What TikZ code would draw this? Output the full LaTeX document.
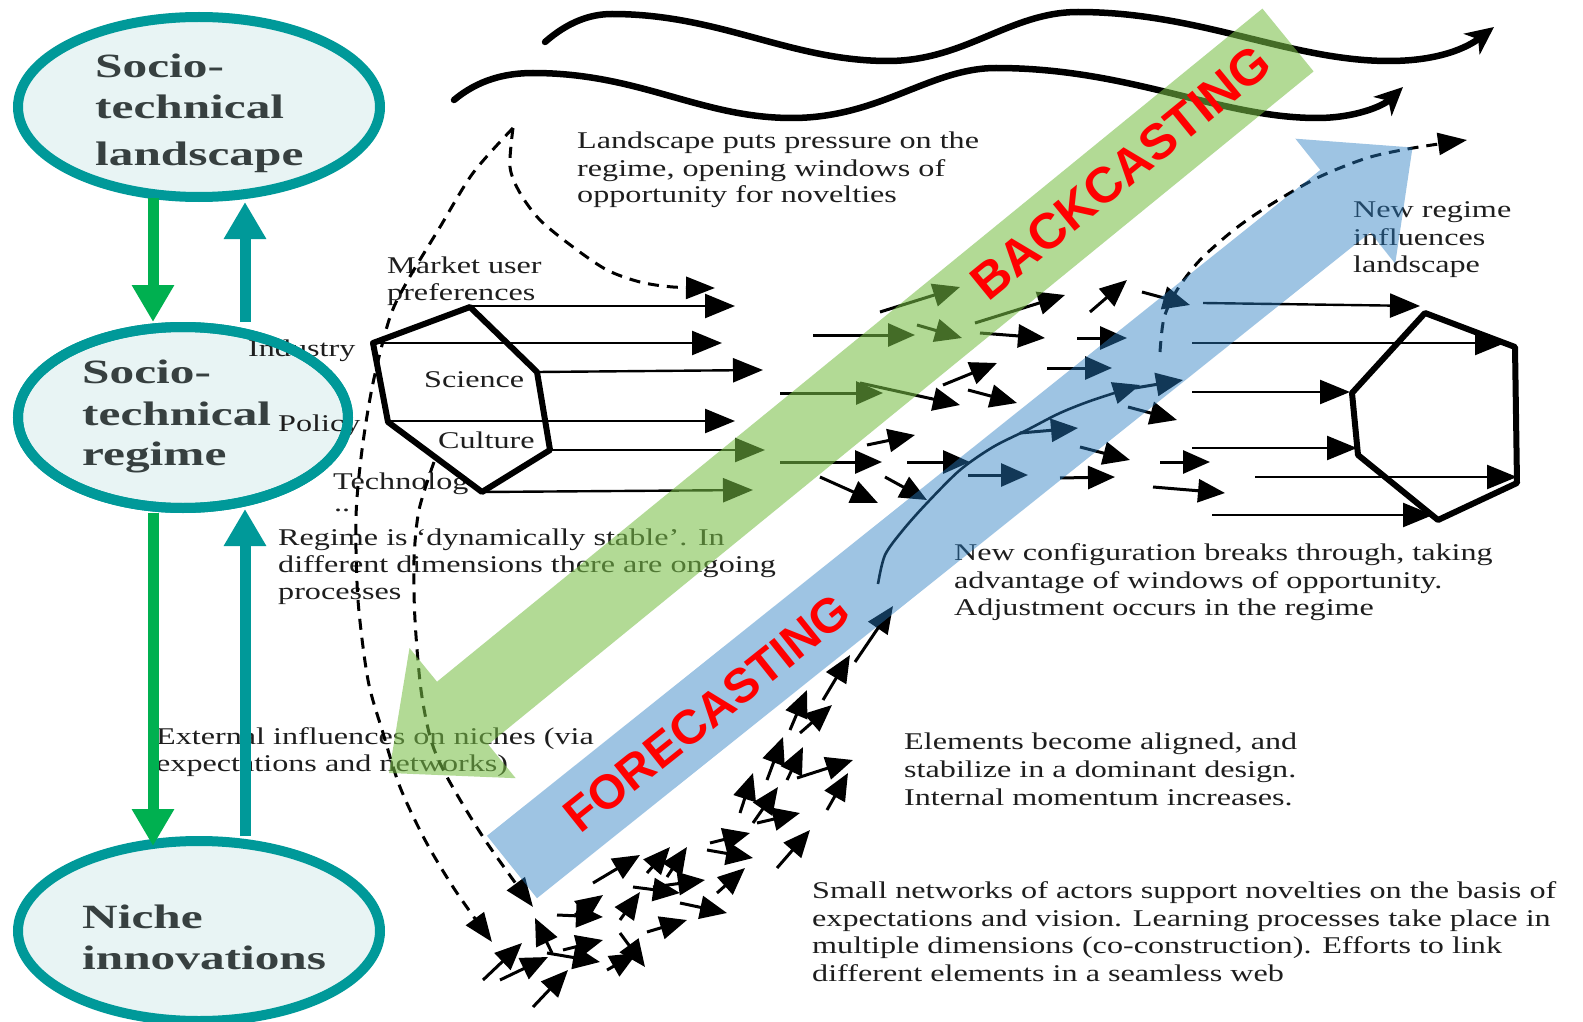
\documentclass[tikz,border=0pt]{standalone}
\usepackage{fontspec}
\setmainfont{Liberation Serif}
\newfontfamily\geelsfont[FakeStretch=1.34]{Liberation Serif}
\newfontfamily\levelfont[FakeStretch=1.45]{Liberation Serif}
\newfontfamily\castfont{Liberation Sans}
\usetikzlibrary{arrows.meta,shapes.geometric}

\definecolor{levelteal}{RGB}{0,153,153}
\definecolor{levelfill}{RGB}{232,244,244}
\definecolor{levelink}{RGB}{55,64,64}
\definecolor{downgreen}{RGB}{0,176,80}
\definecolor{backband}{RGB}{120,190,70}
\definecolor{foreband}{RGB}{40,125,195}
\definecolor{bodyink}{RGB}{30,30,30}
\definecolor{castred}{RGB}{255,0,0}

\tikzset{
  level/.style={ellipse, draw=levelteal, fill=levelfill, line width=10pt, inner sep=0pt},
  leveltxt/.style={anchor=base west, inner sep=0pt, text=levelink,
    font=\levelfont\bfseries\fontsize{34}{40}\selectfont},
  geelstxt/.style={anchor=base west, inner sep=0pt, text=bodyink,
    font=\geelsfont\fontsize{24}{27}\selectfont},
  levelarrow/.style={line width=11pt, -{Triangle[length=37pt,width=40pt]}},
  hexedge/.style={line width=6pt, line join=round},
  rowarrow/.style={line width=2.4pt, -{Triangle[length=30pt,width=24pt]}},
  swarm/.style={line width=3pt, -{Triangle[length=27pt,width=23pt]}},
  influence/.style={line width=3pt, dash pattern=on 11pt off 8pt, -{Triangle[length=29pt,width=22pt]}},
  breakthrough/.style={line width=2.6pt, -{Triangle[length=27pt,width=22pt]}},
  wave/.style={line width=6.5pt, line cap=round, -{Stealth[length=28pt,width=26pt,inset=8pt]}},
  castlabel/.style={text=castred, inner sep=0pt},
}

\begin{document}
\begin{tikzpicture}[x=1pt,y=-1pt]
\useasboundingbox (0,0) rectangle (1583,1022);
\fill[white] (0,0) rectangle (1583,1022);

% landscape waves
\draw[wave] (545,42) .. controls (568,22) and (590,14) .. (612,14)
  .. controls (720,14) and (790,61) .. (888,61)
  .. controls (965,61) and (1010,12) .. (1078,12)
  .. controls (1200,12) and (1290,61) .. (1389,61)
  .. controls (1440,61) and (1468,47) .. (1494,27);
\draw[wave] (454,100) .. controls (478,80) and (505,73) .. (533,73)
  .. controls (640,73) and (700,118) .. (792,118)
  .. controls (880,118) and (930,68) .. (996,68)
  .. controls (1130,68) and (1220,118) .. (1317,118)
  .. controls (1355,118) and (1383,106) .. (1403,87);

% the three levels
\node[level, minimum width=362pt, minimum height=180pt] (landscape) at (199,107) {};
\node[level, minimum width=330pt, minimum height=181pt] (regime) at (183,417.5) {};
\node[level, minimum width=362pt, minimum height=180pt] (niche) at (199,931) {};

\node[leveltxt] (landscape-a) at (95,78) {Socio-};
\node[leveltxt] (landscape-b) at (95,119) {technical};
\node[leveltxt] (landscape-c) at (95,166) {landscape};
\node[leveltxt] (regime-a) at (82,383) {Socio-};
\node[leveltxt] (regime-b) at (82,425) {technical};
\node[leveltxt] (regime-c) at (82,465) {regime};
\node[leveltxt] (niche-a) at (82,928) {Niche};
\node[leveltxt] (niche-b) at (82,969) {innovations};

% captions of the multi-level picture
\node[geelstxt] (press-a) at (577,149) {Landscape puts pressure on the};
\node[geelstxt] (press-b) at (577,176) {regime, opening windows of};
\node[geelstxt] (press-c) at (577,203) {opportunity for novelties};
\node[geelstxt] (newreg-a) at (1353,217) {New regime};
\node[geelstxt] (newreg-b) at (1353,245) {influences};
\node[geelstxt] (newreg-c) at (1353,272) {landscape};
\node[geelstxt] (market-a) at (387,273) {Market user};
\node[geelstxt] (market-b) at (387,300) {preferences};
\node[geelstxt] (industry) at (248,356) {Industry};
\node[geelstxt] (science) at (424,387) {Science};
\node[geelstxt] (policy) at (278,431) {Policy};
\node[geelstxt] (culture) at (438,448) {Culture};
\node[geelstxt] (technology) at (333,489) {Technolog};
\node[geelstxt] (dots) at (334,511) {..};
\node[geelstxt] (stable-a) at (278,545) {Regime is ‘dynamically stable’. In};
\node[geelstxt] (stable-b) at (278,572) {different dimensions there are ongoing};
\node[geelstxt] (stable-c) at (278,599) {processes};
\node[geelstxt] (external-a) at (156,744) {External influences on niches (via};
\node[geelstxt] (external-b) at (156,771) {expectations and networks)};
\node[geelstxt] (config-a) at (954,560) {New configuration breaks through, taking};
\node[geelstxt] (config-b) at (954,588) {advantage of windows of opportunity.};
\node[geelstxt] (config-c) at (954,615) {Adjustment occurs in the regime};
\node[geelstxt] (aligned-a) at (904,749) {Elements become aligned, and};
\node[geelstxt] (aligned-b) at (904,777) {stabilize in a dominant design.};
\node[geelstxt] (aligned-c) at (904,805) {Internal momentum increases.};
\node[geelstxt] (small-a) at (812,898) {Small networks of actors support novelties on the basis of};
\node[geelstxt] (small-b) at (812,926) {expectations and vision. Learning processes take place in};
\node[geelstxt] (small-c) at (812,953) {multiple dimensions (co-construction). Efforts to link};
\node[geelstxt] (small-d) at (812,981) {different elements in a seamless web};

% regime hexagons
\draw[hexedge] (470,307) -- (537,372) -- (550,450) -- (482,492) -- (388,422) -- (373,343) -- cycle;
\draw[hexedge] (1425,313) -- (1515,347) -- (1517,483) -- (1438,520) -- (1358,455) -- (1352,393) -- cycle;

% dimensions leaving the old regime
\foreach \ax/\ay/\bx/\by in {470/306/735/306, 373/343/722/343, 537/372/763/370,
  388/421/735/421, 550/450/765/450, 482/492/753/490}
  \draw[rowarrow] (\ax,\ay) -- (\bx,\by);

% dimensions entering the new regime
\foreach \ax/\ay/\bx/\by in {1203/303/1420/306, 1192/343/1505/343, 1192/392/1350/392,
  1192/448/1357/448, 1255/477/1517/477, 1212/515/1433/515}
  \draw[rowarrow] (\ax,\ay) -- (\bx,\by);

% unsettled dimensions in between
\foreach \ax/\ay/\bx/\by in {880/312/960/287, 813/335/915/335, 917/325/962/338,
  975/323/1065/295, 980/333/1045/338, 1090/312/1127/280, 1077/338/1127/338,
  1142/292/1190/305, 943/385/997/363, 780/393/883/393, 860/383/960/405,
  968/390/1017/403, 1047/368/1112/368, 1128/407/1177/420, 867/445/915/435,
  1020/433/1078/428, 780/462/882/462, 907/462/970/462, 1080/447/1130/460,
  1160/462/1210/462, 820/477/878/503, 885/477/927/500, 968/475/1028/475,
  1060/478/1115/477, 1153/487/1225/493, 1135/388/1183/380}
  \draw[swarm] (\ax,\ay) -- (\bx,\by);

% niche swarm growing into a dominant design
\foreach \ax/\ay/\bx/\by in {855/662/893/606, 823/700/850/655, 800/733/832/705,
  790/730/807/690, 767/780/783/737, 787/780/803/747, 797/778/853/760,
  827/810/848/773, 740/813/753/773, 753/823/778/787, 757/823/800/813,
  777/868/810/830, 710/843/750/833, 707/850/753/858, 717/893/745/868,
  667/877/687/847, 647/873/670/847, 593/883/640/855, 653/887/705/880,
  633/887/680/893, 680/903/727/913, 620/920/640/892, 575/915/603/895,
  557/915/603/917, 647/932/687/920, 552/953/535/918, 483/980/522/943,
  500/980/548/957, 563/950/603/940, 547/953/600/962, 533/1007/568/970,
  607/970/637/953, 620/933/645/967}
  \draw[swarm] (\ax,\ay) -- (\bx,\by);

% influences
\coordinate (peak) at (513,128);
\draw[influence] plot[smooth] coordinates {(peak) (473,173) (440,227) (408,280) (390,317)
  (373,383) (362,450) (356,517) (358,600) (368,680) (383,733) (400,787) (425,840)
  (455,890) (492,942)};
\draw[influence] plot[smooth] coordinates {(peak) (510,167) (520,193) (540,220)
  (573,247) (607,270) (640,282) (673,287) (715,288)};
\draw[influence] plot[smooth] coordinates {(434,462) (419,510) (414,560) (415,620)
  (421,690) (431,740) (447,777) (485,840) (533,907)};
\draw[influence] plot[smooth] coordinates {(1160,352) (1164,318) (1177,290) (1200,260)
  (1235,229) (1270,205) (1317,178) (1367,158) (1413,148) (1467,140)};
\draw[breakthrough] plot[smooth] coordinates {(878,584) (885,555) (903,530) (927,503)
  (960,470) (993,447) (1027,430) (1060,413) (1093,400) (1140,385)};

% ellipse outline over the regime labels
\draw[levelteal, line width=10pt] (regime.center) ellipse [x radius=165, y radius=90.5];

% links between the levels
\coordinate (downx) at (153,0);
\coordinate (upx) at (245,0);
\draw[levelarrow, downgreen, shorten <=-4pt] (downx |- landscape.south) -- (downx |- regime.north);
\draw[levelarrow, levelteal] (upx |- regime.north) -- (upx |- landscape.south);
\draw[levelarrow, downgreen, shorten >=-10pt] (downx |- regime.south) -- (downx |- niche.north);
\draw[levelarrow, levelteal, shorten >=-4pt] (upx |- niche.north) -- (upx |- regime.south);

% backcasting and forecasting bands
\fill[backband, fill opacity=0.57] (1262.4,8.6) -- (437,681.7) -- (409.5,648) -- (389,773)
  -- (515.7,778.2) -- (488.2,744.5) -- (1313.6,71.4) -- cycle;
\fill[foreband, fill opacity=0.45] (487,835.8) -- (1320.3,170) -- (1295.4,138.7) -- (1412.5,147.5)
  -- (1395.2,263.7) -- (1370.3,232.4) -- (537,898.2) -- cycle;

\node[castlabel, rotate=39.2, font=\castfont\bfseries\fontsize{50}{50}\selectfont]
  (backcasting) at (1121,172) {BACKCASTING};
\node[castlabel, rotate=38.6, font=\castfont\bfseries\fontsize{48}{48}\selectfont]
  (forecasting) at (707,713) {FORECASTING};
\end{tikzpicture}
\end{document}
